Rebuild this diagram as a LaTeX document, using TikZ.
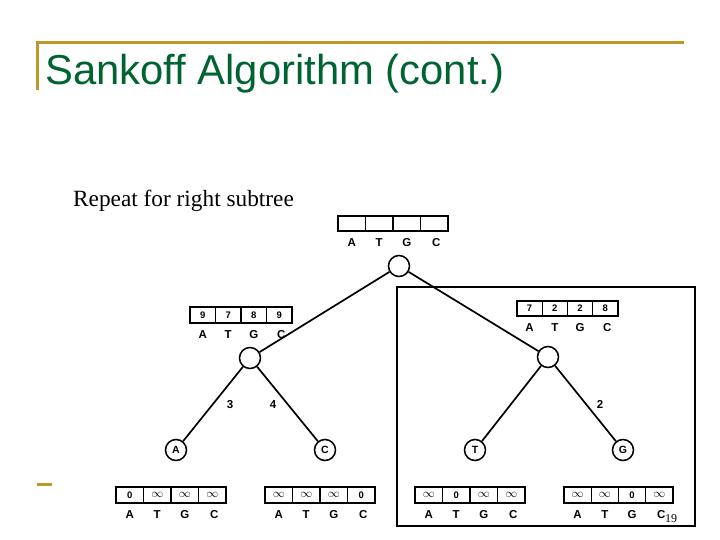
\documentclass[tikz,border=0pt]{standalone}
\usepackage{fontspec}
\setmainfont{Liberation Serif}
\setsansfont{Liberation Sans}
\usetikzlibrary{calc}
\definecolor{gold}{RGB}{190,152,38}
\definecolor{titlegreen}{RGB}{0,100,50}
\newcommand\myinf{{\fontsize{13}{13}\selectfont$\infty$}}
\tikzset{
  cell/.style={draw, line width=1.1pt, minimum height=15pt, inner sep=0pt, font=\sffamily\bfseries\fontsize{9.5}{9.5}\selectfont},
  lab/.style={font=\sffamily\bfseries\fontsize{11.5}{11.5}\selectfont, inner sep=0pt},
  tnode/.style={draw, circle, line width=1.5pt, minimum size=21pt, inner sep=0pt, font=\sffamily\bfseries\fontsize{10.5}{10.5}\selectfont},
  edge/.style={line width=1.7pt},
  elab/.style={font=\sffamily\bfseries\fontsize{11.5}{11.5}\selectfont, inner sep=0pt}
}
% #1 name, #2 x left, #3 y center, #4 cell width, #5-#8 values
\newcommand\costarr[8]{%
  \begin{scope}[shift={(#2,#3)}]
    \node[cell, minimum width=#4pt] (#1-1) at (0.5*#4,0) {#5};
    \node[cell, minimum width=#4pt] (#1-2) at (1.5*#4,0) {#6};
    \node[cell, minimum width=#4pt] (#1-3) at (2.5*#4,0) {#7};
    \node[cell, minimum width=#4pt] (#1-4) at (3.5*#4,0) {#8};
    \draw[line width=1.8pt] (#1-1.north west) rectangle (#1-4.south east);
    \path (#1-1.south) ++(0,11) node[lab] {A};
    \path (#1-2.south) ++(0,11) node[lab] {T};
    \path (#1-3.south) ++(0,11) node[lab] {G};
    \path (#1-4.south) ++(2,11) node[lab] {C};
  \end{scope}}
\begin{document}
\begin{tikzpicture}[x=1pt,y=-1pt]
\useasboundingbox[fill=white] (0,0) rectangle (720,540);
% slide decorations
\draw[gold, line width=3pt] (36,43) -- (684,43);
\draw[gold, line width=3pt] (37.5,41.5) -- (37.5,90);
\draw[gold, line width=3pt] (37,484.5) -- (52,484.5);
\node[anchor=base west, inner sep=0pt, text=titlegreen, font=\sffamily\fontsize{41.8}{41.8}\selectfont] (title) at (45,85) {Sankoff Algorithm (cont.)};
\node[anchor=base west, inner sep=0pt, font=\fontsize{23.3}{23.3}\selectfont] (sub) at (73,207) {Repeat for right subtree};
% frame
\draw[line width=1.2pt] (397,287) rectangle (695,526);
% tree nodes
\node[tnode] (root) at (399,266) {};
\node[tnode] (L) at (250,358) {};
\node[tnode] (R) at (548,357) {};
\node[tnode] (la) at (176,450) {A};
\node[tnode] (lc) at (325,450) {C};
\node[tnode] (lt) at (475,450) {T};
\node[tnode] (lg) at (623,450) {G};
% edges
\draw[edge] (root) -- (L);
\draw[edge] (root) -- (R);
\draw[edge] (L) -- (la);
\draw[edge] (L) -- (lc);
\draw[edge] (R) -- (lt);
\draw[edge] (R) -- (lg);
\node[elab] (e3) at (230,405) {3};
\node[elab] (e4) at (273,405) {4};
\node[elab] (e2) at (600,404) {2};
% arrays
\costarr{top}{338}{223.5}{27.5}{}{}{}{}
\costarr{arrL}{190}{315}{25.5}{9}{7}{8}{9}
\costarr{arrR}{517}{308.5}{25.25}{7}{2}{2}{8}
\costarr{arrA}{116}{495}{27.5}{0}{\myinf}{\myinf}{\myinf}
\costarr{arrC}{265}{495}{27.5}{\myinf}{\myinf}{\myinf}{0}
\costarr{arrT}{415}{495}{27.5}{\myinf}{0}{\myinf}{\myinf}
\costarr{arrG}{564}{495}{27.25}{\myinf}{\myinf}{0}{\myinf}
% slide number
\node[anchor=base west, inner sep=0pt, font=\fontsize{12}{12}\selectfont] (num) at (665,522) {19};
\end{tikzpicture}
\end{document}
